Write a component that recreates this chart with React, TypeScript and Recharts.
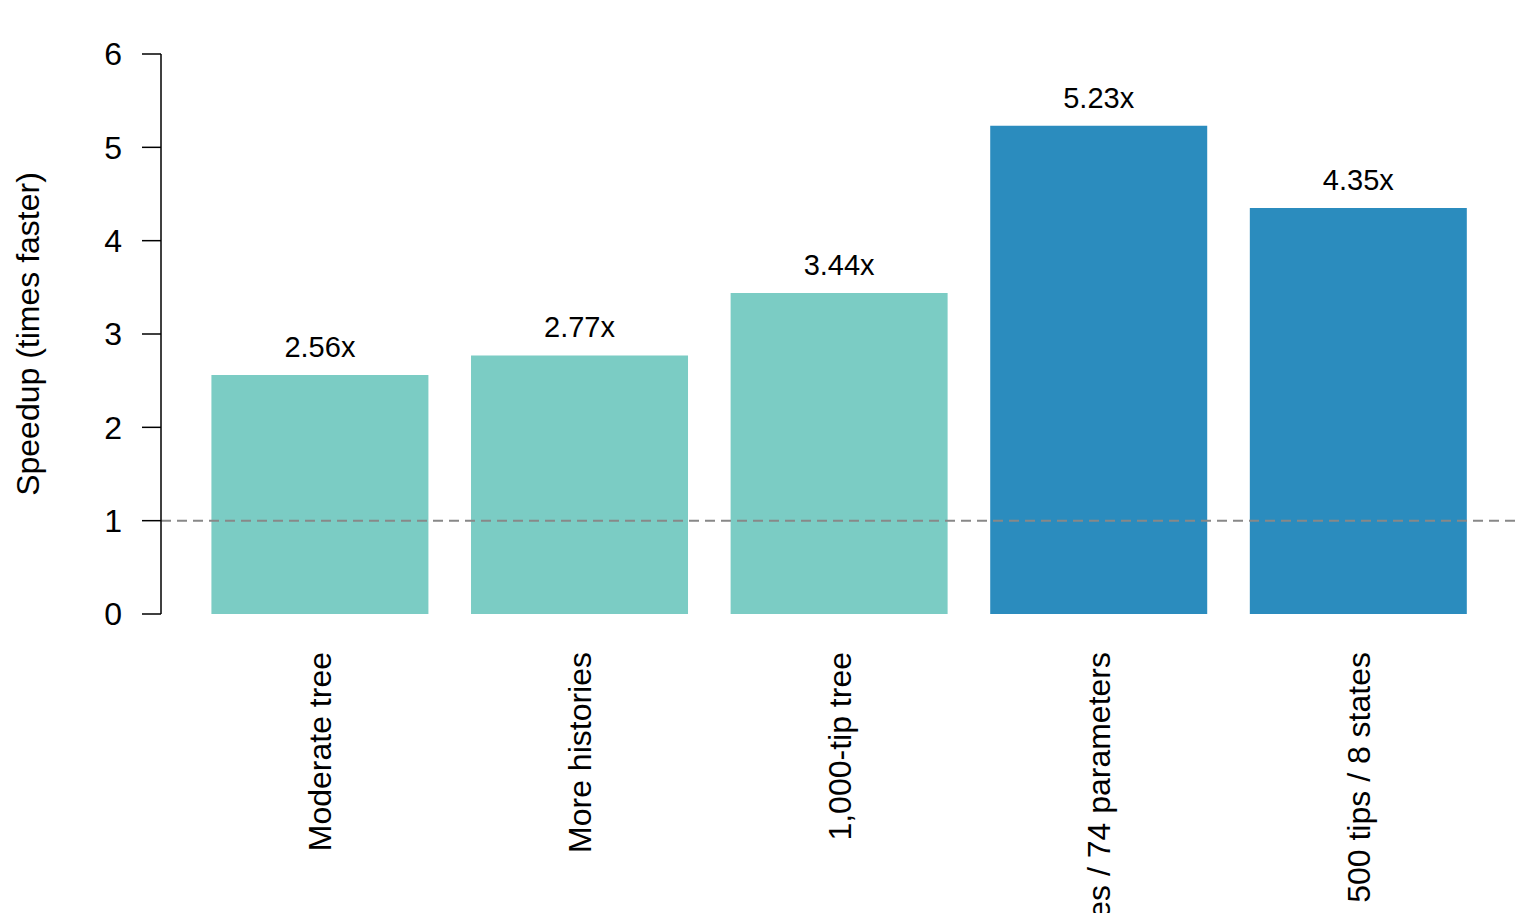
import React from 'react';
import { BarChart, Bar, XAxis, YAxis, Cell, LabelList, ReferenceLine } from 'recharts';

const categories = [
  'Moderate tree',
  'More histories',
  '1,000-tip tree',
  'Many states / 74 parameters',
  '500 tips / 8 states',
];
const speedups = [2.56, 2.77, 3.44, 5.23, 4.35];
const barColors = ['#7BCCC4', '#7BCCC4', '#7BCCC4', '#2B8CBE', '#2B8CBE'];
const yTicks = [0, 1, 2, 3, 4, 5, 6];

const data = categories.map((name, i) => ({ name, speedup: speedups[i] }));

const FONT = '"Liberation Sans", Arial, Helvetica, sans-serif';

function RotatedTick(props: any) {
  const { x, y, payload } = props;
  return (
    <text
      transform={`translate(${x},${y + 38}) rotate(-90)`}
      textAnchor="end"
      dy="0.36em"
      fontFamily={FONT}
      fontSize={32}
      fill="#000"
    >
      {payload.value}
    </text>
  );
}

export default function App() {
  return (
    <div style={{ width: 1520, height: 913, marginBottom: -8 }}>
      <BarChart
        width={1520}
        height={913}
        data={data}
        margin={{ top: 46, right: 13, bottom: 0, left: 0 }}
        barCategoryGap="8.25%"
      >
        <XAxis
          dataKey="name"
          height={307}
          axisLine={false}
          tickLine={false}
          tickSize={0}
          tickMargin={0}
          interval={0}
          padding={{ left: 29, right: 27 }}
          tick={<RotatedTick />}
        />
        <XAxis xAxisId="ref" type="number" domain={[0, 1]} hide />
        <YAxis
          width={153}
          domain={[0, 6]}
          ticks={yTicks}
          interval={0}
          tickSize={19}
          tickMargin={20}
          stroke="#000"
          strokeWidth={1.5}
          tick={{ fill: '#000', fontSize: 32, fontFamily: FONT }}
          label={{
            value: 'Speedup (times faster)',
            angle: -90,
            position: 'insideLeft',
            offset: 20,
            style: { textAnchor: 'middle', fontSize: 32, fontFamily: FONT, fill: '#000' },
          }}
        />
        <Bar dataKey="speedup" isAnimationActive={false}>
          {data.map((d, i) => (
            <Cell key={d.name} fill={barColors[i]} />
          ))}
          <LabelList
            dataKey="speedup"
            position="top"
            offset={18}
            formatter={(v: any) => `${Number(v).toFixed(2)}x`}
            style={{ fontSize: 29, fontFamily: FONT, fill: '#000' }}
          />
        </Bar>
        <ReferenceLine
          y={1}
          xAxisId="ref"
          stroke="#888888"
          strokeWidth={2}
          strokeDasharray="10 6"
        />
      </BarChart>
    </div>
  );
}
